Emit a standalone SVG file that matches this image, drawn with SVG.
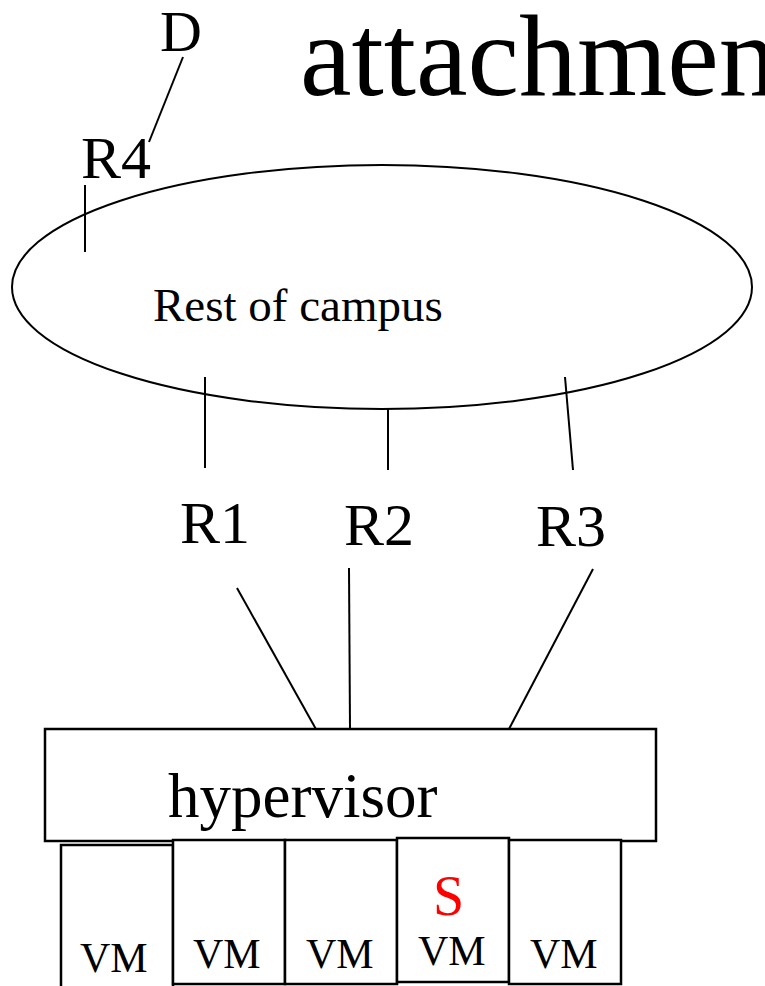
<svg xmlns="http://www.w3.org/2000/svg" width="765" height="986" viewBox="0 0 765 986">
<style>
text{font-family:"Liberation Serif","Times New Roman",serif;fill:#000}
.ln{stroke:#000;stroke-width:2;fill:none}
.bx{stroke:#000;stroke-width:2.5;fill:#fff}
.r{font-size:60px}
.vm{font-size:42px}
</style>
<rect width="765" height="986" fill="#fff"/>
<g id="title"><text x="300" y="95" font-size="116">attachmen</text></g>
<g id="campus">
<ellipse cx="382" cy="287" rx="370" ry="122" class="ln"/>
<text x="153" y="321" font-size="47">Rest of campus</text>
</g>
<g id="connectors">
<line x1="183" y1="57" x2="149" y2="142" class="ln"/>
<line x1="85" y1="185" x2="85" y2="252" class="ln"/>
<line x1="205" y1="377" x2="205" y2="468" class="ln"/>
<line x1="388" y1="409" x2="388" y2="470" class="ln"/>
<line x1="565" y1="377" x2="573" y2="470" class="ln"/>
<line x1="237" y1="588" x2="317" y2="731" class="ln"/>
<line x1="349" y1="568" x2="350" y2="729" class="ln"/>
<line x1="593" y1="569" x2="509" y2="729" class="ln"/>
</g>
<g id="D"><text x="160" y="51" font-size="58">D</text></g>
<g id="R4"><text x="81" y="178" class="r">R4</text></g>
<g id="R1"><text x="180" y="543" class="r">R1</text></g>
<g id="R2"><text x="344" y="545" class="r">R2</text></g>
<g id="R3"><text x="536" y="546" class="r">R3</text></g>
<g id="hypervisor">
<rect x="45" y="729" width="611" height="112" class="bx"/>
<text x="168" y="817" font-size="63">hypervisor</text>
</g>
<g id="vm1"><rect x="61" y="845" width="112" height="150" class="bx"/><text x="80" y="972" class="vm">VM</text></g>
<g id="vm2"><rect x="173" y="840" width="112" height="144" class="bx"/><text x="193" y="968" class="vm">VM</text></g>
<g id="vm3"><rect x="285" y="840" width="112" height="144" class="bx"/><text x="306" y="968" class="vm">VM</text></g>
<g id="vm4"><rect x="397" y="838" width="112" height="144" class="bx"/><text x="433" y="915" font-size="56" style="fill:#f00">S</text><text x="418" y="965" class="vm">VM</text></g>
<g id="vm5"><rect x="509" y="840" width="112" height="144" class="bx"/><text x="530" y="968" class="vm">VM</text></g>
</svg>
